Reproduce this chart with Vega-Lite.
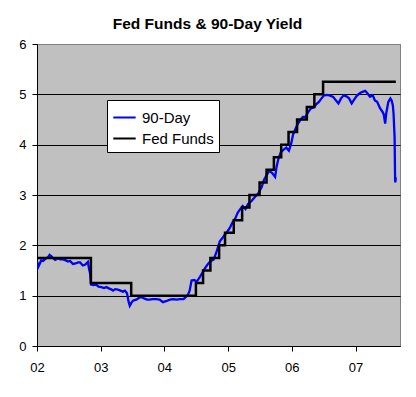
{
  "$schema": "https://vega.github.io/schema/vega-lite/v6.json",
  "autosize": {"type": "none"},
  "padding": {"left": 37, "top": 44, "right": 16, "bottom": 51},
  "width": 363,
  "height": 302,
  "background": "white",
  "title": {
    "text": "Fed Funds & 90-Day Yield",
    "font": "Liberation Sans",
    "fontSize": 15.5,
    "fontWeight": "bold",
    "color": "black",
    "frame": "group",
    "anchor": "middle",
    "dx": -11,
    "dy": 23,
    "offset": 17,
    "baseline": "alphabetic"
  },
  "config": {
    "view": {"fill": "#C0C0C0", "stroke": "#808080", "strokeWidth": 1},
    "axis": {
      "labelFont": "Liberation Sans",
      "labelFontSize": 13,
      "labelColor": "black",
      "domainColor": "black",
      "tickColor": "black",
      "tickSize": 5,
      "title": null
    }
  },
  "datasets": {
    "t": [
      {"d": "2002-01-02", "v": 1.68}, {"d": "2002-01-08", "v": 1.57}, {"d": "2002-01-15", "v": 1.62}, {"d": "2002-01-25", "v": 1.70},
      {"d": "2002-02-05", "v": 1.69}, {"d": "2002-02-20", "v": 1.74}, {"d": "2002-03-05", "v": 1.76}, {"d": "2002-03-14", "v": 1.81},
      {"d": "2002-03-25", "v": 1.78}, {"d": "2002-04-05", "v": 1.74}, {"d": "2002-04-15", "v": 1.71}, {"d": "2002-04-30", "v": 1.74},
      {"d": "2002-05-15", "v": 1.72}, {"d": "2002-05-30", "v": 1.72}, {"d": "2002-06-15", "v": 1.70}, {"d": "2002-06-28", "v": 1.68},
      {"d": "2002-07-10", "v": 1.69}, {"d": "2002-07-26", "v": 1.63}, {"d": "2002-08-10", "v": 1.64}, {"d": "2002-08-25", "v": 1.66},
      {"d": "2002-09-05", "v": 1.66}, {"d": "2002-09-21", "v": 1.60}, {"d": "2002-10-05", "v": 1.62}, {"d": "2002-10-20", "v": 1.67},
      {"d": "2002-10-27", "v": 1.52}, {"d": "2002-11-01", "v": 1.45}, {"d": "2002-11-07", "v": 1.22}, {"d": "2002-11-20", "v": 1.21},
      {"d": "2002-12-05", "v": 1.22}, {"d": "2002-12-20", "v": 1.18},
      {"d": "2003-01-05", "v": 1.17}, {"d": "2003-01-20", "v": 1.15}, {"d": "2003-02-03", "v": 1.17}, {"d": "2003-02-20", "v": 1.14},
      {"d": "2003-03-05", "v": 1.12}, {"d": "2003-03-13", "v": 1.10}, {"d": "2003-03-25", "v": 1.13}, {"d": "2003-04-10", "v": 1.12},
      {"d": "2003-04-25", "v": 1.10}, {"d": "2003-05-08", "v": 1.08}, {"d": "2003-05-20", "v": 1.10}, {"d": "2003-06-01", "v": 1.05},
      {"d": "2003-06-10", "v": 0.88}, {"d": "2003-06-17", "v": 0.80}, {"d": "2003-06-25", "v": 0.85}, {"d": "2003-07-05", "v": 0.90},
      {"d": "2003-07-24", "v": 0.92}, {"d": "2003-08-10", "v": 0.96}, {"d": "2003-08-25", "v": 0.97}, {"d": "2003-09-10", "v": 0.94},
      {"d": "2003-09-25", "v": 0.92}, {"d": "2003-10-08", "v": 0.92}, {"d": "2003-10-25", "v": 0.93}, {"d": "2003-11-16", "v": 0.93},
      {"d": "2003-12-05", "v": 0.92}, {"d": "2003-12-24", "v": 0.87},
      {"d": "2004-01-10", "v": 0.89}, {"d": "2004-02-02", "v": 0.92}, {"d": "2004-02-20", "v": 0.93}, {"d": "2004-03-11", "v": 0.92},
      {"d": "2004-03-30", "v": 0.93}, {"d": "2004-04-20", "v": 0.93}, {"d": "2004-05-05", "v": 0.98}, {"d": "2004-05-16", "v": 1.02},
      {"d": "2004-05-25", "v": 1.10}, {"d": "2004-06-05", "v": 1.30}, {"d": "2004-06-20", "v": 1.31}, {"d": "2004-07-05", "v": 1.28},
      {"d": "2004-07-24", "v": 1.38}, {"d": "2004-08-10", "v": 1.48}, {"d": "2004-08-22", "v": 1.55}, {"d": "2004-09-05", "v": 1.62},
      {"d": "2004-09-20", "v": 1.68}, {"d": "2004-10-10", "v": 1.72}, {"d": "2004-10-27", "v": 1.88}, {"d": "2004-11-14", "v": 2.08},
      {"d": "2004-11-30", "v": 2.15}, {"d": "2004-12-10", "v": 2.20}, {"d": "2004-12-23", "v": 2.25},
      {"d": "2005-01-11", "v": 2.35}, {"d": "2005-01-25", "v": 2.45}, {"d": "2005-02-10", "v": 2.53}, {"d": "2005-02-25", "v": 2.65},
      {"d": "2005-03-11", "v": 2.72}, {"d": "2005-03-25", "v": 2.78}, {"d": "2005-04-10", "v": 2.72}, {"d": "2005-04-25", "v": 2.82},
      {"d": "2005-05-15", "v": 2.88}, {"d": "2005-06-03", "v": 2.96}, {"d": "2005-06-22", "v": 3.03}, {"d": "2005-07-12", "v": 3.16},
      {"d": "2005-07-25", "v": 3.30}, {"d": "2005-08-10", "v": 3.40}, {"d": "2005-08-25", "v": 3.48}, {"d": "2005-09-09", "v": 3.44},
      {"d": "2005-09-27", "v": 3.36}, {"d": "2005-10-05", "v": 3.55}, {"d": "2005-10-16", "v": 3.72}, {"d": "2005-10-30", "v": 3.85},
      {"d": "2005-11-15", "v": 3.90}, {"d": "2005-11-30", "v": 3.94}, {"d": "2005-12-15", "v": 3.88}, {"d": "2005-12-28", "v": 4.02},
      {"d": "2006-01-08", "v": 4.20}, {"d": "2006-01-20", "v": 4.30}, {"d": "2006-02-05", "v": 4.42}, {"d": "2006-02-20", "v": 4.50},
      {"d": "2006-03-05", "v": 4.55}, {"d": "2006-03-20", "v": 4.55}, {"d": "2006-04-05", "v": 4.65}, {"d": "2006-04-20", "v": 4.72},
      {"d": "2006-05-05", "v": 4.74}, {"d": "2006-05-20", "v": 4.80}, {"d": "2006-06-05", "v": 4.85}, {"d": "2006-06-20", "v": 4.92},
      {"d": "2006-07-05", "v": 4.98}, {"d": "2006-07-20", "v": 4.99}, {"d": "2006-08-05", "v": 4.98}, {"d": "2006-08-26", "v": 4.95},
      {"d": "2006-09-10", "v": 4.88}, {"d": "2006-09-25", "v": 4.82}, {"d": "2006-10-10", "v": 4.92}, {"d": "2006-10-25", "v": 4.98},
      {"d": "2006-11-10", "v": 4.96}, {"d": "2006-11-25", "v": 4.92}, {"d": "2006-12-10", "v": 4.82}, {"d": "2006-12-25", "v": 4.90},
      {"d": "2007-01-08", "v": 4.97}, {"d": "2007-01-25", "v": 5.02}, {"d": "2007-02-10", "v": 5.05}, {"d": "2007-02-25", "v": 5.07},
      {"d": "2007-03-10", "v": 5.02}, {"d": "2007-03-25", "v": 4.95}, {"d": "2007-04-10", "v": 4.98}, {"d": "2007-04-22", "v": 4.88},
      {"d": "2007-05-05", "v": 4.85}, {"d": "2007-05-22", "v": 4.72}, {"d": "2007-06-05", "v": 4.65}, {"d": "2007-06-12", "v": 4.60},
      {"d": "2007-06-20", "v": 4.42}, {"d": "2007-06-26", "v": 4.62}, {"d": "2007-07-08", "v": 4.85}, {"d": "2007-07-20", "v": 4.92},
      {"d": "2007-07-27", "v": 4.88}, {"d": "2007-08-03", "v": 4.78}, {"d": "2007-08-07", "v": 4.62}, {"d": "2007-08-13", "v": 4.15},
      {"d": "2007-08-16", "v": 3.29}, {"d": "2007-08-17", "v": 3.25}, {"d": "2007-08-20", "v": 3.35}
    ],
    "ff": [
      {"d": "2002-01-01", "v": 1.75}, {"d": "2002-11-06", "v": 1.25}, {"d": "2003-06-25", "v": 1.00},
      {"d": "2004-06-30", "v": 1.25}, {"d": "2004-08-10", "v": 1.50}, {"d": "2004-09-21", "v": 1.75},
      {"d": "2004-11-10", "v": 2.00}, {"d": "2004-12-14", "v": 2.25}, {"d": "2005-02-02", "v": 2.50},
      {"d": "2005-03-22", "v": 2.75}, {"d": "2005-05-03", "v": 3.00}, {"d": "2005-06-30", "v": 3.25},
      {"d": "2005-08-09", "v": 3.50}, {"d": "2005-09-20", "v": 3.75}, {"d": "2005-11-01", "v": 4.00},
      {"d": "2005-12-13", "v": 4.25}, {"d": "2006-01-31", "v": 4.50}, {"d": "2006-03-28", "v": 4.75},
      {"d": "2006-05-10", "v": 5.00}, {"d": "2006-06-29", "v": 5.25}, {"d": "2007-08-20", "v": 5.25}
    ]
  },
  "encoding": {
    "x": {
      "field": "d",
      "type": "temporal",
      "scale": {
        "type": "utc",
        "domain": [{"year": 2002, "month": 1, "date": 1, "utc": true}, {"year": 2007, "month": 9, "date": 13, "utc": true}]
      },
      "axis": {
        "format": "%y",
        "values": [
          {"year": 2002, "month": 1, "date": 1, "utc": true},
          {"year": 2003, "month": 1, "date": 1, "utc": true},
          {"year": 2004, "month": 1, "date": 1, "utc": true},
          {"year": 2005, "month": 1, "date": 1, "utc": true},
          {"year": 2006, "month": 1, "date": 1, "utc": true},
          {"year": 2007, "month": 1, "date": 1, "utc": true}
        ],
        "grid": false,
        "labelPadding": 10,
        "labelFlush": false,
        "labelOverlap": false
      }
    },
    "y": {
      "field": "v",
      "type": "quantitative",
      "scale": {"domain": [0, 6], "nice": false},
      "axis": {
        "values": [0, 1, 2, 3, 4, 5, 6],
        "grid": true,
        "gridColor": {"condition": {"test": "datum.value == 6", "value": "#808080"}, "value": "black"},
        "gridOpacity": 1,
        "labelPadding": 6
      }
    }
  },
  "layer": [
    {
      "data": {"name": "t"},
      "mark": {"type": "line", "stroke": "#0000FF", "strokeWidth": 2.3, "clip": true},
      "encoding": {
        "color": {
          "datum": "90-Day",
          "scale": {"domain": ["90-Day", "Fed Funds"], "range": ["#0000FF", "#000000"]},
          "legend": {
            "title": null,
            "orient": "none",
            "legendX": 70,
            "legendY": 56,
            "fillColor": "white",
            "strokeColor": "black",
            "padding": 5,
            "symbolType": "stroke",
            "symbolStrokeWidth": 2,
            "symbolSize": 500,
            "labelFont": "Liberation Sans",
            "labelFontSize": 15,
            "labelColor": "black",
            "labelOffset": 5,
            "rowPadding": 0
          }
        }
      }
    },
    {
      "data": {"name": "ff"},
      "mark": {"type": "line", "interpolate": "step-after", "strokeWidth": 2.5, "clip": true},
      "encoding": {
        "color": {"datum": "Fed Funds"}
      }
    }
  ]
}
